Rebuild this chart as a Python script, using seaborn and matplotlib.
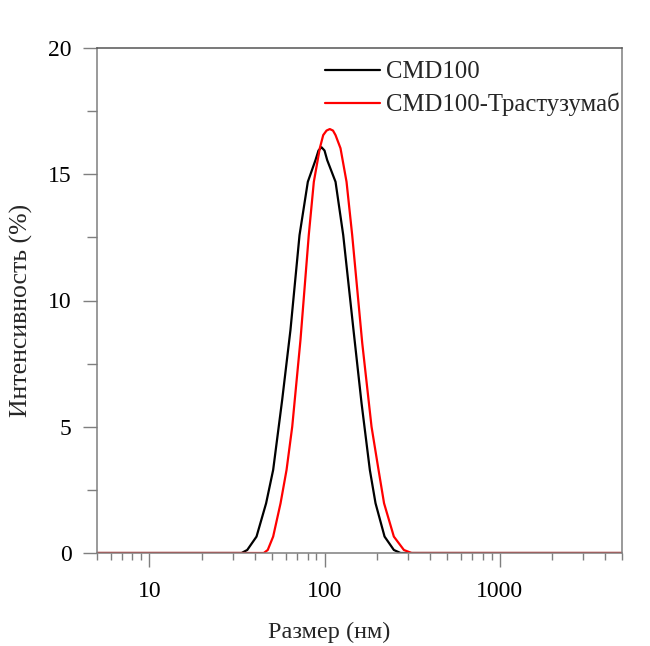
import numpy as np
import pandas as pd
import matplotlib
matplotlib.use("Agg")
import matplotlib.pyplot as plt
import seaborn as sns
from matplotlib.ticker import LogLocator, MultipleLocator, FixedLocator

# Data (size in nm, intensity in %)
size_cmd = [5, 33.6, 36.2, 40.9, 46.4, 50.9, 57.3, 63.9, 72.0, 80.3, 88.8, 92.4, 96.1,
            100.0, 103.6, 115.6, 127.9, 146.4, 162.7, 181.5, 195.6, 220.3, 248.9, 271.8, 5000]
int_cmd = [0, 0, 0.12, 0.65, 1.97, 3.29, 6.06, 8.83, 12.59, 14.7, 15.56, 15.94, 16.07,
           15.94, 15.56, 14.7, 12.59, 8.83, 5.94, 3.29, 1.97, 0.65, 0.12, 0, 0]

size_tr = [5, 45.0, 47.4, 50.9, 56.1, 60.7, 65.4, 72.9, 81.3, 86.9, 94.0, 98.3, 102.7,
           107.2, 111.8, 115.6, 123.4, 133.6, 143.9, 164.2, 185.6, 203.5, 218.8, 248.9,
           284.0, 314.2, 5000]
int_tr = [0, 0, 0.12, 0.65, 1.97, 3.29, 5.00, 8.44, 12.59, 14.7, 16.03, 16.55, 16.73,
          16.79, 16.73, 16.55, 16.03, 14.7, 12.59, 8.32, 5.00, 3.29, 1.97, 0.65,
          0.12, 0, 0]

labels = ["CMD100", "CMD100-Трастузумаб"]
colors = ["#000000", "#ff0000"]

df = pd.concat([
    pd.DataFrame({"size": size_cmd, "intensity": int_cmd, "sample": labels[0]}),
    pd.DataFrame({"size": size_tr, "intensity": int_tr, "sample": labels[1]}),
], ignore_index=True)

sns.set_theme(style="ticks")
plt.rcParams["font.family"] = ["Liberation Serif", "DejaVu Serif"]

fig = plt.figure(figsize=(6.5, 6.46), dpi=100)
ax = fig.add_axes([96.7 / 650, 1 - 553 / 646, (622 - 96.7) / 650, (553 - 48) / 646])

sns.lineplot(data=df, x="size", y="intensity", hue="sample", palette=colors,
             hue_order=labels, linewidth=1.6, ax=ax, sort=False, estimator=None)

ax.set_xscale("log")
ax.set_xlim(5, 5000)
ax.set_ylim(0, 20)

spine_col = "#7f7f7f"
for s in ax.spines.values():
    s.set_color(spine_col)
    s.set_linewidth(1.1)
ax.spines["top"].set_color("#555555")

ax.xaxis.set_major_locator(FixedLocator([10, 100, 1000]))
ax.xaxis.set_minor_locator(LogLocator(base=10, subs=np.arange(2, 10), numticks=20))
ax.set_xticklabels(["10", "100", "1000"])
ax.yaxis.set_major_locator(MultipleLocator(5))
ax.yaxis.set_minor_locator(MultipleLocator(2.5))

ax.tick_params(axis="both", which="major", direction="out", length=10, width=1.0,
               color=spine_col, labelsize=17, labelcolor="black")
ax.tick_params(axis="x", which="minor", direction="out", length=5, width=1.0, color=spine_col)
ax.tick_params(axis="y", which="minor", direction="out", length=7, width=1.0, color=spine_col)
ax.tick_params(axis="x", which="major", pad=10)
ax.tick_params(axis="y", which="major", pad=8)

ax.set_xlabel("Размер (нм)", fontsize=17.5)
ax.set_ylabel("Интенсивность (%)", fontsize=18.5)
ax.xaxis.set_label_coords((329 - 96.7) / 525.3, -(622 - 553) / 505)
ax.yaxis.set_label_coords((33 - 96.7) / 525.3, (553 - 310) / 505)

leg = ax.legend(loc="upper left", bbox_to_anchor=(0.4346, 0.974), frameon=False,
                fontsize=17.8, handlelength=2.23, handletextpad=0.25, labelspacing=0.38,
                borderaxespad=0, borderpad=0)
for line in leg.get_lines():
    line.set_linewidth(1.6)

fig.savefig("out.png", dpi=100)
